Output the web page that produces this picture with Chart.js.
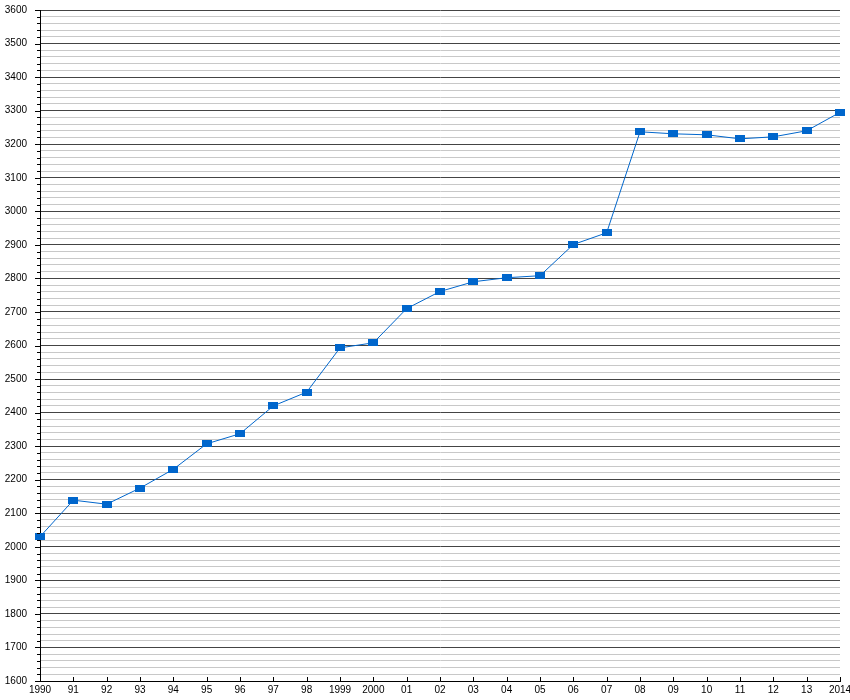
<!DOCTYPE html>
<html>
<head>
<meta charset="utf-8">
<script src="https://cdn.jsdelivr.net/npm/chart.js@4.4.1/dist/chart.umd.min.js"></script>
<style>
  html, body { margin: 0; padding: 0; background: #fff; }
  #wrap { width: 850px; height: 700px; }
</style>
</head>
<body>
<div id="wrap"><canvas id="chart"></canvas></div>
<script>
// label tahun di sumbu x
const yearLabels = ["1990", "91", "92", "93", "94", "95", "96", "97", "98", "1999",
                    "2000", "01", "02", "03", "04", "05", "06", "07", "08", "09",
                    "10", "11", "12", "13", "2014"];

// nilai per tahun
const values = [2030, 2139, 2127, 2175, 2231, 2307, 2337, 2420, 2461, 2593,
                2608, 2710, 2761, 2790, 2802, 2808, 2901, 2936, 3237, 3231,
                3228, 3216, 3222, 3240, 3295];

// sumbu y
const yMin = 1600;
const yMax = 3600;
const yMinorStep = 20;
const yMajorStep = 100;

const blue = "#0066cc";

// marker kotak pipih
const marker = document.createElement("canvas");
marker.width = 10;
marker.height = 7;
const mctx = marker.getContext("2d");
mctx.fillStyle = blue;
mctx.fillRect(0, 0, 10, 7);

// tick kecil di sumbu
const tickMarks = {
    id: "tickMarks",
    afterDraw(chart) {
        const ctx = chart.ctx;
        const x = chart.scales.x;
        const y = chart.scales.y;
        ctx.save();
        ctx.strokeStyle = "#000";
        ctx.lineWidth = 1;
        ctx.beginPath();
        y.ticks.forEach(t => {
            const py = Math.round(y.getPixelForValue(t.value)) + 0.5;
            const len = t.value % yMajorStep === 0 ? 5 : 3;
            ctx.moveTo(y.right - len, py);
            ctx.lineTo(y.right, py);
        });
        yearLabels.forEach((_, i) => {
            const px = Math.round(x.getPixelForTick(i)) + 0.5;
            ctx.moveTo(px, x.top);
            ctx.lineTo(px, x.top - 4);
        });
        ctx.stroke();
        ctx.restore();
    }
};

new Chart(document.getElementById("chart"), {
    type: "line",
    data: {
        labels: yearLabels,
        datasets: [{
            data: values,
            borderColor: blue,
            backgroundColor: blue,
            borderWidth: 1,
            tension: 0,
            fill: false,
            pointStyle: marker,
            pointRadius: 5,
            pointHoverRadius: 5
        }]
    },
    options: {
        responsive: true,
        maintainAspectRatio: false,
        animation: false,
        events: [],
        layout: { padding: { top: 10, right: 10, left: 0, bottom: 0 } },
        plugins: {
            legend: { display: false },
            tooltip: { enabled: false }
        },
        scales: {
            x: {
                offset: false,
                grid: { drawOnChartArea: false, drawTicks: false },
                border: { display: true, color: "#000", width: 1 },
                ticks: {
                    autoSkip: false,
                    maxRotation: 0,
                    padding: 3,
                    color: "#000",
                    font: { family: "'Liberation Sans', Arial, sans-serif", size: 10 }
                },
                afterFit(scale) {
                    scale.height = 19;
                    scale.paddingLeft = 0;
                    scale.paddingRight = 0;
                }
            },
            y: {
                min: yMin,
                max: yMax,
                grid: {
                    drawTicks: false,
                    lineWidth: 1,
                    color: c => (c.tick && c.tick.value % yMajorStep === 0) ? "#444444" : "#c8c8c8"
                },
                border: { display: true, color: "#000", width: 1 },
                ticks: {
                    stepSize: yMinorStep,
                    autoSkip: false,
                    padding: 13,
                    color: "#000",
                    font: { family: "'Liberation Sans', Arial, sans-serif", size: 10 },
                    callback: v => v % yMajorStep === 0 ? String(v) : ""
                },
                afterFit(scale) {
                    scale.width = 40;
                    scale.paddingTop = 0;
                    scale.paddingBottom = 0;
                }
            }
        }
    },
    plugins: [tickMarks]
});
</script>
</body>
</html>
